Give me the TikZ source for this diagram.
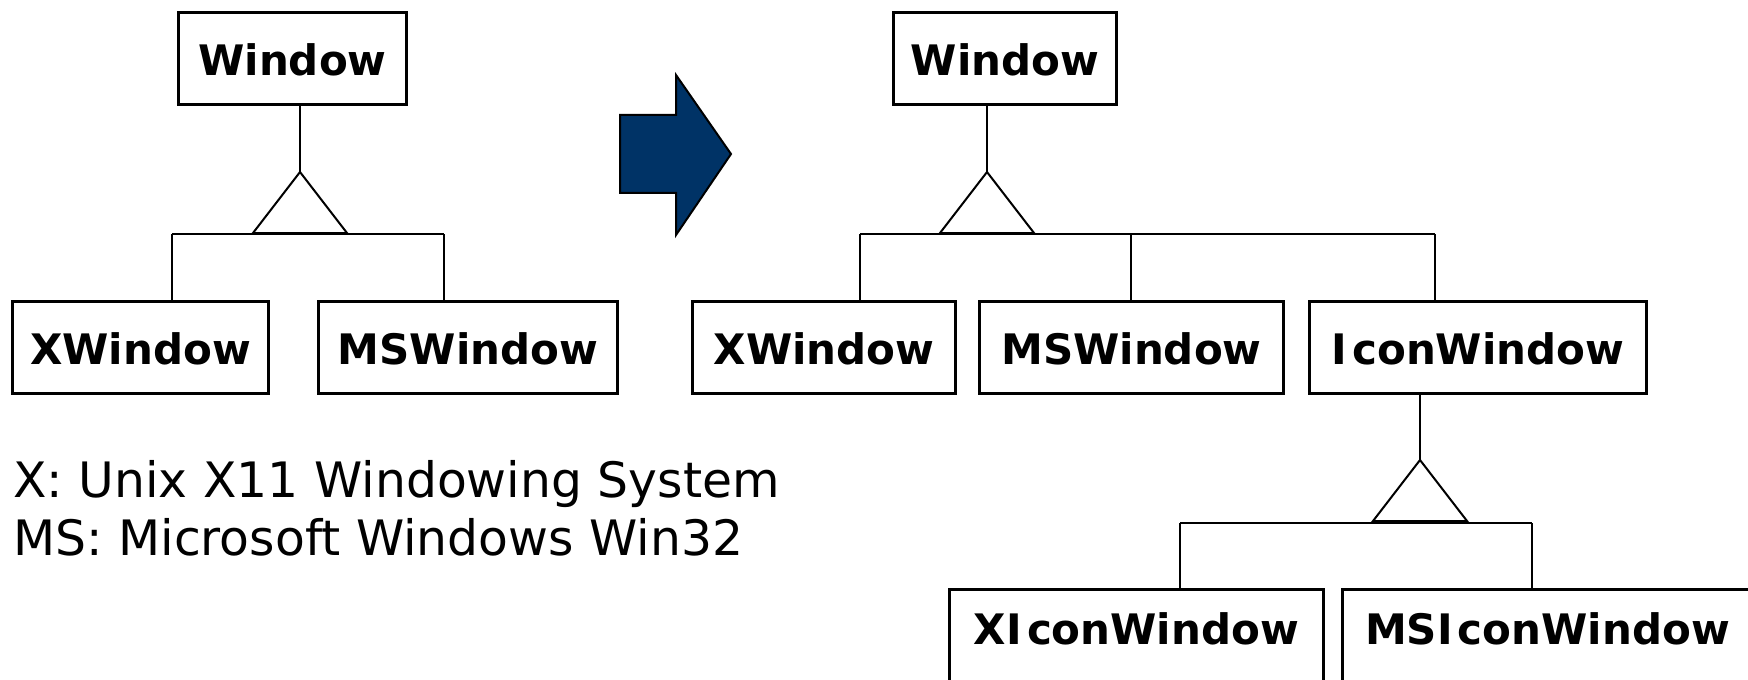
\documentclass[tikz,border=0pt]{standalone}
\usepackage{fontspec}
\setmainfont{DejaVu Sans}
\usetikzlibrary{positioning}
\definecolor{arrowblue}{RGB}{0,51,102}

\tikzset{
  cls/.style={draw, line width=1.5pt, anchor=north west, inner sep=0pt,
    font=\fontsize{21}{25}\selectfont\bfseries,
    text height=31.5pt, text depth=14.5pt},
  subcls/.style={cls, text height=27.5pt, text depth=60pt},
  link/.style={line width=1pt},
  legend/.style={anchor=base west, inner sep=0pt, font=\fontsize{24.4}{29}\selectfont}
}

\begin{document}
\begin{tikzpicture}[x=0.5pt, y=-0.5pt]
  \useasboundingbox (0,0) rectangle (1748,679);
  \clip (0,0) rectangle (1748,679);

  \node[cls, minimum width=114pt] (winA) at (177,11) {Window};
  \node[cls, minimum width=128pt] (xwinA) at (11,300) {XWindow};
  \node[cls, minimum width=149.5pt] (mswinA) at (317,300) {MSWindow};

  \coordinate (apexA) at (300,172);
  \coordinate (barAl) at (172,234);
  \coordinate (barAr) at (444,234);

  \draw[link] (apexA |- winA.south) -- (apexA);
  \draw[link, fill=white] (apexA) -- ++(-47,61) -- ++(94,0) -- cycle;
  \draw[link] (barAl) -- (barAr);
  \draw[link] (barAl) -- (barAl |- xwinA.north);
  \draw[link] (barAr) -- (barAr |- mswinA.north);

  \node[legend] (legX) at (13,497) {X: Unix X11 Windowing System};
  \node[legend] (legMS) at (13,555) {MS: Microsoft Windows Win32};

  \fill[arrowblue, draw=black, line width=1pt] (620,115) -- (676,115) -- (676,75)
    -- (731,154) -- (676,235) -- (676,193) -- (620,193) -- cycle;

  \node[cls, minimum width=111.5pt] (winB) at (892,11) {Window};
  \node[cls, minimum width=131.5pt] (xwinB) at (691,300) {XWindow};
  \node[cls, minimum width=152pt] (mswinB) at (978,300) {MSWindow};
  \node[cls, minimum width=168.5pt] (iconwin) at (1308,300) {I\kern0.12em conWindow};

  \coordinate (apexB) at (987,172);
  \coordinate (barBl) at (860,234);
  \coordinate (barBm) at (1131,234);
  \coordinate (barBr) at (1435,234);

  \draw[link] (apexB |- winB.south) -- (apexB);
  \draw[link, fill=white] (apexB) -- ++(-47,61) -- ++(94,0) -- cycle;
  \draw[link] (barBl) -- (barBr);
  \draw[link] (barBl) -- (barBl |- xwinB.north);
  \draw[link] (barBm) -- (barBm |- mswinB.north);
  \draw[link] (barBr) -- (barBr |- iconwin.north);

  \node[subcls, minimum width=187pt] (xiconwin) at (948,588) {XI\kern0.12em conWindow};
  \node[subcls, minimum width=205pt] (msiconwin) at (1341,588) {MSI\kern0.12em conWindow};

  \coordinate (apexC) at (1420,460);
  \coordinate (barCl) at (1180,523);
  \coordinate (barCr) at (1532,523);

  \draw[link] (apexC |- iconwin.south) -- (apexC);
  \draw[link, fill=white] (apexC) -- ++(-47,61) -- ++(94,0) -- cycle;
  \draw[link] (barCl) -- (barCr);
  \draw[link] (barCl) -- (barCl |- xiconwin.north);
  \draw[link] (barCr) -- (barCr |- msiconwin.north);
\end{tikzpicture}
\end{document}
